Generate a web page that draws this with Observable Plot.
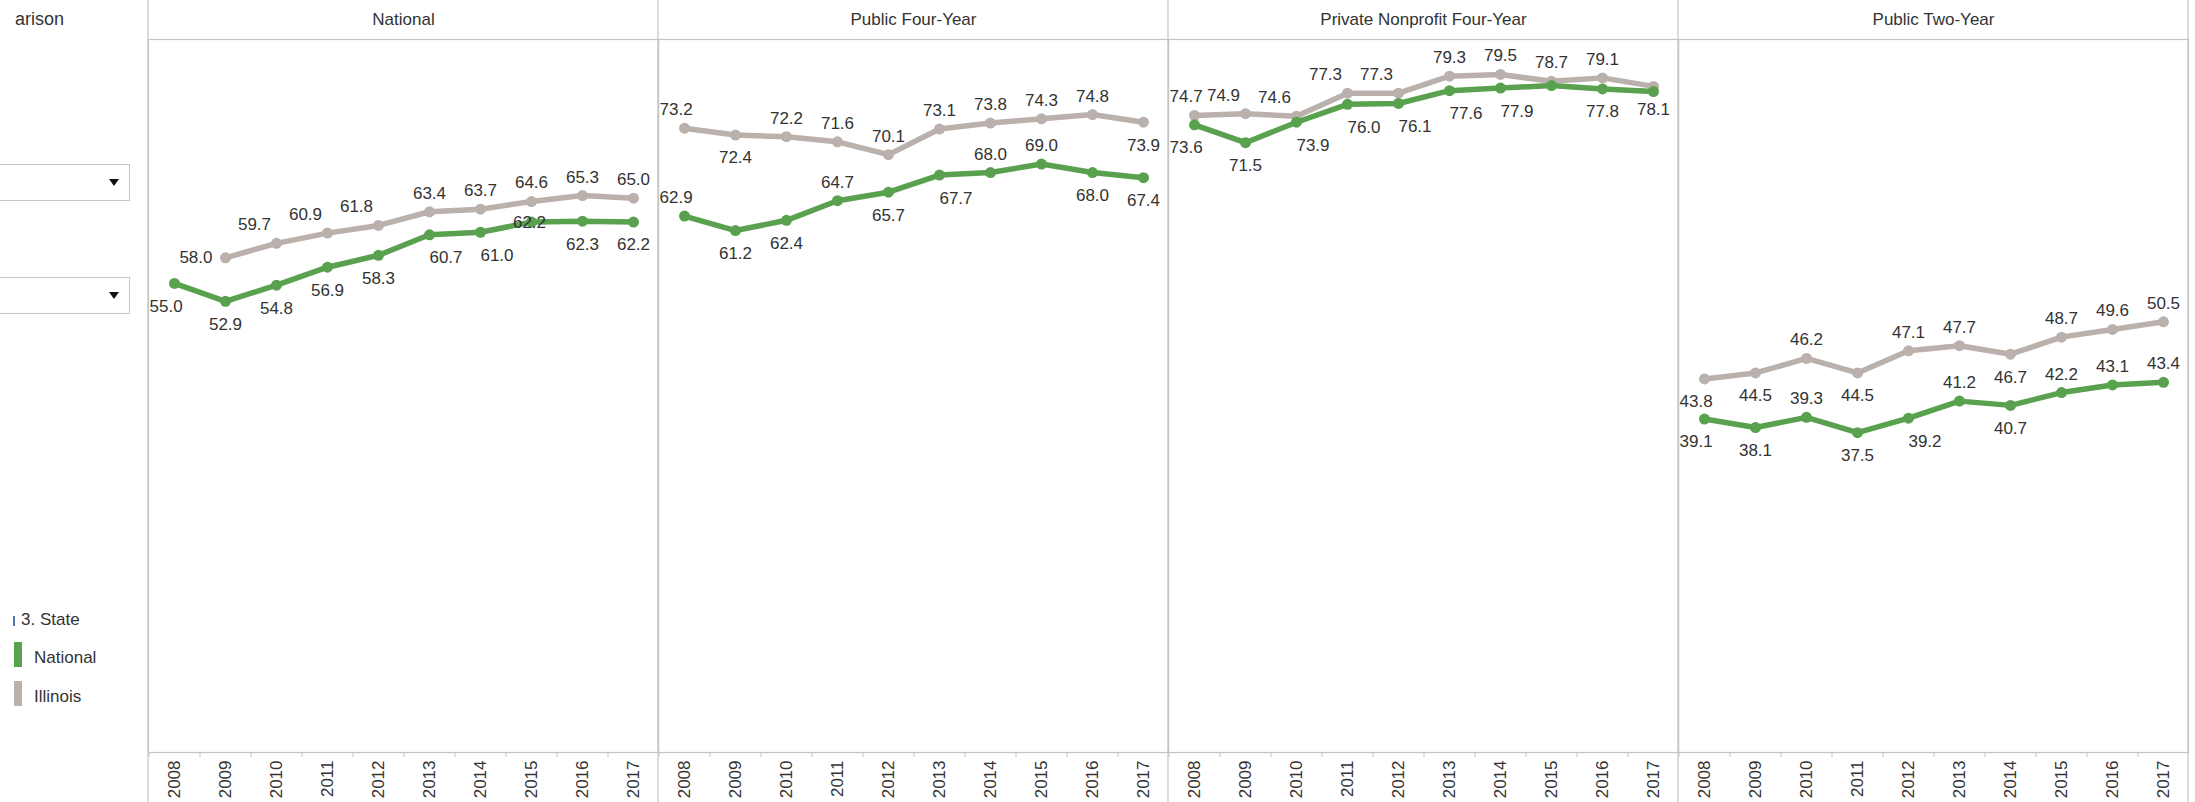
<!DOCTYPE html>
<html>
<head>
<meta charset="utf-8">
<script src="https://cdn.jsdelivr.net/npm/d3@7"></script>
<script src="https://cdn.jsdelivr.net/npm/@observablehq/plot@0.6"></script>
<style>
  html, body { margin: 0; padding: 0; background: #fff; }
  body { font-family: "Liberation Sans", Arial, sans-serif; color: #333; }
  #wrap { position: relative; width: 2195px; height: 802px; overflow: hidden; }
  #chart { position: absolute; left: 0; top: 0; }
  .side { position: absolute; white-space: nowrap; font-size: 17px; color: #333; line-height: 1; }
  .dd { position: absolute; left: -2px; width: 130px; height: 35px; border: 1px solid #c6c6c6; background: #fff; }
  .tri { position: absolute; left: 109px; width: 0; height: 0; border-left: 5px solid transparent; border-right: 5px solid transparent; border-top: 7px solid #111; }
  .sw { position: absolute; left: 14px; width: 8px; height: 25px; }
</style>
</head>
<body>
<div id="wrap">
  <div id="chart"></div>
  <div class="side" style="left:15px; top:10px; font-size:18px;">arison</div>
  <div class="dd" style="top:164px;"></div>
  <div class="tri" style="top:179px;"></div>
  <div class="dd" style="top:277px;"></div>
  <div class="tri" style="top:292px;"></div>
  <div style="position:absolute; left:13px; top:616px; width:2px; height:10px; background:#4e79a7;"></div>
  <div class="side" style="left:21px; top:611px;">3. State</div>
  <div class="sw" style="top:642px; background:#59a14f;"></div>
  <div class="side" style="left:34px; top:649px;">National</div>
  <div class="sw" style="top:681px; background:#bab0ac;"></div>
  <div class="side" style="left:34px; top:688px;">Illinois</div>
</div>
<script>
// ---------- data ----------
const panels = ["National", "Public Four-Year", "Private Nonprofit Four-Year", "Public Two-Year"];
const years = [2008, 2009, 2010, 2011, 2012, 2013, 2014, 2015, 2016, 2017];
const seriesNames = ["National", "Illinois"];

const natNational  = [55.0, 52.9, 54.8, 56.9, 58.3, 60.7, 61.0, 62.2, 62.3, 62.2];
const natIllinois  = [null, 58.0, 59.7, 60.9, 61.8, 63.4, 63.7, 64.6, 65.3, 65.0];
const pub4National = [62.9, 61.2, 62.4, 64.7, 65.7, 67.7, 68.0, 69.0, 68.0, 67.4];
const pub4Illinois = [73.2, 72.4, 72.2, 71.6, 70.1, 73.1, 73.8, 74.3, 74.8, 73.9];
const privNational = [73.6, 71.5, 73.9, 76.0, 76.1, 77.6, 77.9, 78.2, 77.8, 77.5];
const privIllinois = [74.7, 74.9, 74.6, 77.3, 77.3, 79.3, 79.5, 78.7, 79.1, 78.1];
const pub2National = [39.1, 38.1, 39.3, 37.5, 39.2, 41.2, 40.7, 42.2, 43.1, 43.4];
const pub2Illinois = [43.8, 44.5, 46.2, 44.5, 47.1, 47.7, 46.7, 48.7, 49.6, 50.5];

// label placement codes (a = above, b = below, l = left, c = on point, "" = hidden)
const natNationalLbl  = ["b0", "b", "b", "b", "b", "br", "br", "c", "b", "b"];
const natIllinoisLbl  = ["", "l", "al", "al", "al", "a", "a", "a", "a", "a"];
const pub4NationalLbl = ["a0", "b", "b", "a", "b", "br", "a", "a", "b", "b"];
const pub4IllinoisLbl = ["a0", "b", "a", "a", "a", "a", "a", "a", "a", "b"];
const privNationalLbl = ["b0", "b", "br", "br", "br", "br", "br", "", "b", ""];
const privIllinoisLbl = ["a0", "al", "al", "al", "al", "a", "a", "a", "a", "b"];
const pub2NationalLbl = ["b0", "b", "a", "b", "br", "a", "b", "a", "a", "a"];
const pub2IllinoisLbl = ["b0", "b", "a", "b", "a", "a", "b", "a", "a", "a"];

// ---------- layout ----------
const W = 2195, H = 802, ML = 148, MR = 7, MT = 39, MB = 50;
const facetW = (W - ML - MR) / panels.length;
const step = facetW / years.length;
const yTop = 83.6;
const border = "#c4c4c4";
const green = "#59a14f", grey = "#bab0ac";
const FONT = "'Liberation Sans', Arial, sans-serif";

const defs = [
  [panels[0], "National", natNational, natNationalLbl],
  [panels[0], "Illinois", natIllinois, natIllinoisLbl],
  [panels[1], "National", pub4National, pub4NationalLbl],
  [panels[1], "Illinois", pub4Illinois, pub4IllinoisLbl],
  [panels[2], "National", privNational, privNationalLbl],
  [panels[2], "Illinois", privIllinois, privIllinoisLbl],
  [panels[3], "National", pub2National, pub2NationalLbl],
  [panels[3], "Illinois", pub2Illinois, pub2IllinoisLbl]
];
const rows = [];
for (const [panel, series, vals, lbl] of defs) {
  vals.forEach((v, i) => {
    if (v != null) rows.push({panel, series, year: String(years[i]), value: v, lbl: lbl[i]});
  });
}
const ill = rows.filter(d => d.series === "Illinois");
const nat = rows.filter(d => d.series === "National");

const placements = {
  "a":  {dx: 0, dy: -18.5, textAnchor: "middle"},
  "b":  {dx: 0, dy: 23, textAnchor: "middle"},
  "al": {dx: -22, dy: -18.5, textAnchor: "middle"},
  "br": {dx: 16.5, dy: 23, textAnchor: "middle"},
  "a0": {dx: -step / 2 + 0.5, dy: -18.5, textAnchor: "start"},
  "b0": {dx: -step / 2 + 0.5, dy: 23, textAnchor: "start"},
  "l":  {dx: -13, dy: 0, textAnchor: "end"},
  "c":  {dx: -2, dy: 1, textAnchor: "middle"}
};
const labelMarks = Object.entries(placements).map(([code, p]) =>
  Plot.text(rows.filter(d => d.lbl === code), {
    fx: "panel", x: "year", y: "value",
    text: d => d.value.toFixed(1),
    dx: p.dx, dy: p.dy, textAnchor: p.textAnchor,
    fill: "#333", fontSize: 17, fontFamily: FONT
  })
);

const chart = Plot.plot({
  width: W, height: H,
  marginLeft: ML, marginRight: MR, marginTop: MT, marginBottom: MB,
  style: {fontFamily: FONT, fontSize: "17px", color: "#333", background: "transparent", overflow: "visible"},
  fx: {domain: panels, padding: 0, label: null, axis: null},
  x: {type: "point", domain: years.map(String), padding: 0.5, axis: null},
  y: {domain: [0, yTop], axis: null},
  marks: [
    Plot.frame({stroke: border, strokeWidth: 1.2}),
    Plot.axisFx({anchor: "top", tickSize: 0, tickPadding: 15, fontSize: 17, label: null, fill: "#333"}),
    Plot.axisX({anchor: "bottom", tickSize: 0, tickPadding: 8, tickRotate: -90, fontSize: 17, label: null, fill: "#333"}),
    Plot.axisX({anchor: "bottom", tickSize: 5, text: null, dx: -step / 2, stroke: border, label: null}),
    Plot.line(ill, {fx: "panel", x: "year", y: "value", stroke: grey, strokeWidth: 5.5}),
    Plot.dot(ill, {fx: "panel", x: "year", y: "value", fill: grey, r: 5.5}),
    Plot.line(nat, {fx: "panel", x: "year", y: "value", stroke: green, strokeWidth: 5.5}),
    Plot.dot(nat, {fx: "panel", x: "year", y: "value", fill: green, r: 5.5}),
    ...labelMarks
  ]
});
document.getElementById("chart").appendChild(chart);

// extend panel separators through the header and the axis strip
const fx = chart.scale("fx");
const svg = d3.select(chart);
const edges = panels.map(p => fx.apply(p));
edges.push(fx.apply(panels[panels.length - 1]) + fx.bandwidth);
svg.append("g").attr("stroke", border).attr("stroke-width", 1.2)
  .selectAll("line").data(edges).join("line")
  .attr("x1", d => d).attr("x2", d => d).attr("y1", 0).attr("y2", H);
</script>
</body>
</html>
